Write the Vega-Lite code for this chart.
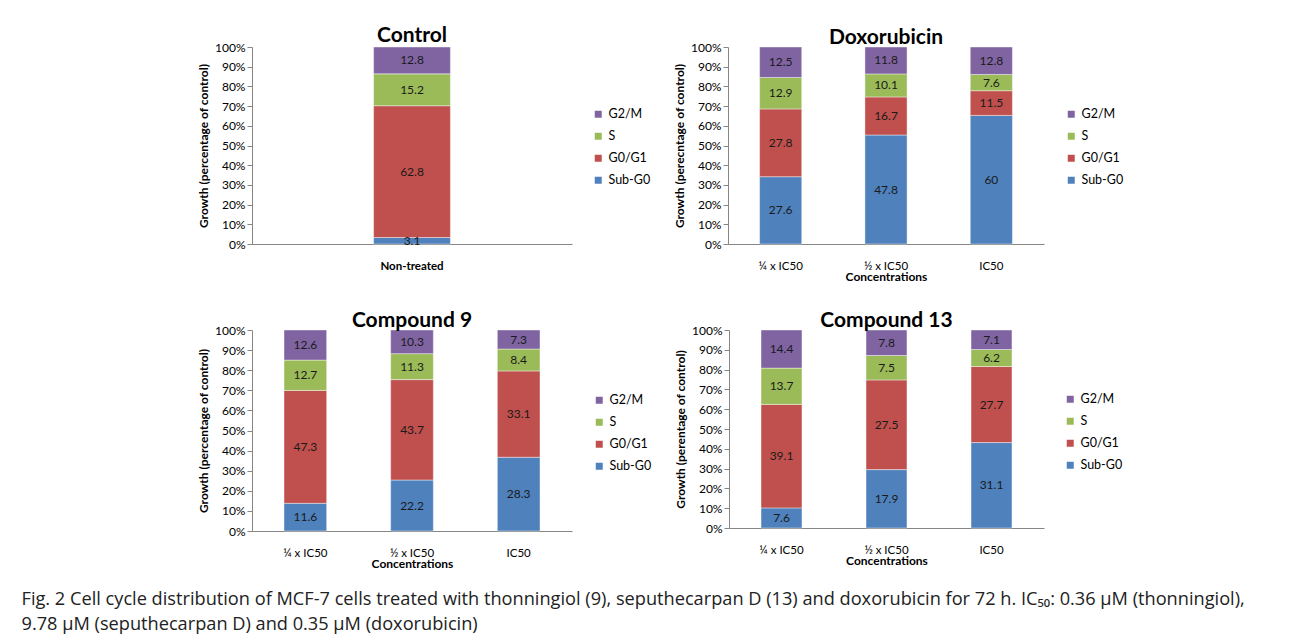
{
  "$schema": "https://vega.github.io/schema/vega-lite/v6.json",
  "padding": {"left": 21, "top": 25, "right": 5, "bottom": 5},
  "background": "white",
  "spacing": 27,
  "config": {
    "font": "Lato",
    "view": {"stroke": null},
    "title": {"font": "Lato", "fontSize": 21, "fontWeight": "bold", "color": "#000"},
    "axis": {"labelFont": "Lato", "titleFont": "Lato", "labelColor": "#000", "titleColor": "#000", "domainColor": "#868686", "tickColor": "#868686", "labelFontSize": 11.5, "titleFontSize": 12, "titleFontWeight": "bold", "labelOverlap": false, "labelSeparation": -30},
    "axisY": {"labelFontSize": 12},
    "legend": {"labelFont": "Lato", "labelFontSize": 12.5, "labelColor": "#000", "symbolType": "square", "symbolSize": 49, "symbolStrokeWidth": 0, "rowPadding": 9, "labelOffset": 4}
  },
  "datasets": {
    "cells": [
      {"panel": "Control", "conc": "Non-treated", "phase": "Sub-G0", "value": 3.1},
      {"panel": "Control", "conc": "Non-treated", "phase": "G0/G1", "value": 62.8},
      {"panel": "Control", "conc": "Non-treated", "phase": "S", "value": 15.2},
      {"panel": "Control", "conc": "Non-treated", "phase": "G2/M", "value": 12.8},
      {"panel": "Doxorubicin", "conc": "¼ x IC50", "phase": "Sub-G0", "value": 27.6},
      {"panel": "Doxorubicin", "conc": "¼ x IC50", "phase": "G0/G1", "value": 27.8},
      {"panel": "Doxorubicin", "conc": "¼ x IC50", "phase": "S", "value": 12.9},
      {"panel": "Doxorubicin", "conc": "¼ x IC50", "phase": "G2/M", "value": 12.5},
      {"panel": "Doxorubicin", "conc": "½ x IC50", "phase": "Sub-G0", "value": 47.8},
      {"panel": "Doxorubicin", "conc": "½ x IC50", "phase": "G0/G1", "value": 16.7},
      {"panel": "Doxorubicin", "conc": "½ x IC50", "phase": "S", "value": 10.1},
      {"panel": "Doxorubicin", "conc": "½ x IC50", "phase": "G2/M", "value": 11.8},
      {"panel": "Doxorubicin", "conc": "IC50", "phase": "Sub-G0", "value": 60},
      {"panel": "Doxorubicin", "conc": "IC50", "phase": "G0/G1", "value": 11.5},
      {"panel": "Doxorubicin", "conc": "IC50", "phase": "S", "value": 7.6},
      {"panel": "Doxorubicin", "conc": "IC50", "phase": "G2/M", "value": 12.8},
      {"panel": "Compound 9", "conc": "¼ x IC50", "phase": "Sub-G0", "value": 11.6},
      {"panel": "Compound 9", "conc": "¼ x IC50", "phase": "G0/G1", "value": 47.3},
      {"panel": "Compound 9", "conc": "¼ x IC50", "phase": "S", "value": 12.7},
      {"panel": "Compound 9", "conc": "¼ x IC50", "phase": "G2/M", "value": 12.6},
      {"panel": "Compound 9", "conc": "½ x IC50", "phase": "Sub-G0", "value": 22.2},
      {"panel": "Compound 9", "conc": "½ x IC50", "phase": "G0/G1", "value": 43.7},
      {"panel": "Compound 9", "conc": "½ x IC50", "phase": "S", "value": 11.3},
      {"panel": "Compound 9", "conc": "½ x IC50", "phase": "G2/M", "value": 10.3},
      {"panel": "Compound 9", "conc": "IC50", "phase": "Sub-G0", "value": 28.3},
      {"panel": "Compound 9", "conc": "IC50", "phase": "G0/G1", "value": 33.1},
      {"panel": "Compound 9", "conc": "IC50", "phase": "S", "value": 8.4},
      {"panel": "Compound 9", "conc": "IC50", "phase": "G2/M", "value": 7.3},
      {"panel": "Compound 13", "conc": "¼ x IC50", "phase": "Sub-G0", "value": 7.6},
      {"panel": "Compound 13", "conc": "¼ x IC50", "phase": "G0/G1", "value": 39.1},
      {"panel": "Compound 13", "conc": "¼ x IC50", "phase": "S", "value": 13.7},
      {"panel": "Compound 13", "conc": "¼ x IC50", "phase": "G2/M", "value": 14.4},
      {"panel": "Compound 13", "conc": "½ x IC50", "phase": "Sub-G0", "value": 17.9},
      {"panel": "Compound 13", "conc": "½ x IC50", "phase": "G0/G1", "value": 27.5},
      {"panel": "Compound 13", "conc": "½ x IC50", "phase": "S", "value": 7.5},
      {"panel": "Compound 13", "conc": "½ x IC50", "phase": "G2/M", "value": 7.8},
      {"panel": "Compound 13", "conc": "IC50", "phase": "Sub-G0", "value": 31.1},
      {"panel": "Compound 13", "conc": "IC50", "phase": "G0/G1", "value": 27.7},
      {"panel": "Compound 13", "conc": "IC50", "phase": "S", "value": 6.2},
      {"panel": "Compound 13", "conc": "IC50", "phase": "G2/M", "value": 7.1}
    ]
  },
  "data": {"name": "cells"},
  "transform": [
    {"calculate": "indexof(['Sub-G0', 'G0/G1', 'S', 'G2/M'], datum.phase)", "as": "ord"},
    {"stack": "value", "groupby": ["panel", "conc"], "sort": [{"field": "ord", "order": "ascending"}], "offset": "normalize", "as": ["y0", "y1"]},
    {"calculate": "(datum.y0 + datum.y1) / 2", "as": "ymid"}
  ],
  "title": {
    "text": ["Fig. 2 Cell cycle distribution of MCF-7 cells treated with thonningiol (9), seputhecarpan D (13) and doxorubicin for 72 h. IC₅₀: 0.36 µM (thonningiol),", "9.78 µM (seputhecarpan D) and 0.35 µM (doxorubicin)"],
    "orient": "bottom",
    "anchor": "start",
    "font": "Open Sans",
    "fontSize": 18.2,
    "fontWeight": "normal",
    "lineHeight": 25,
    "color": "#222",
    "dx": -176,
    "offset": 21
  },
  "vconcat": [
    {
      "spacing": 22,
      "resolve": {"scale": {"color": "independent", "x": "independent", "y": "independent"}, "legend": {"color": "independent"}},
      "hconcat": [
        {
          "title": {"text": "Control", "offset": -5},
          "width": 320,
          "height": 197,
          "transform": [{"filter": "datum.panel == 'Control'"}],
          "encoding": {
            "x": {"field": "conc", "type": "nominal", "sort": null, "scale": {"paddingInner": 0, "paddingOuter": 0},
              "axis": {"title": null, "labelAngle": 0, "ticks": false, "labelPadding": 16, "labelFontWeight": "bold"}}
          },
          "resolve": {"axis": {"y": "independent"}},
          "layer": [
            {
              "mark": {"type": "bar", "width": {"band": 0.24}, "stroke": "#ffffff", "strokeWidth": 0.6, "strokeOpacity": 0.7},
              "encoding": {
                "y": {"field": "y0", "type": "quantitative", "scale": {"domain": [0, 1]},
                  "axis": {"title": "Growth (percentage of control)", "format": "%", "values": [0, 0.1, 0.2, 0.3, 0.4, 0.5, 0.6, 0.7, 0.8, 0.9, 1], "labelOverlap": false, "grid": false, "tickSize": 5, "labelPadding": 2, "titlePadding": 4}},
                "y2": {"field": "y1"},
                "color": {"field": "phase", "type": "nominal", "scale": {"domain": ["G2/M", "S", "G0/G1", "Sub-G0"], "range": ["#8064A2", "#9BBB59", "#C0504D", "#4F81BD"]},
                  "legend": {"title": null, "orient": "none", "legendX": 340, "legendY": 61}}
              }
            },
            {
              "mark": {"type": "text", "fontSize": 12, "color": "#1a1a1a", "baseline": "middle"},
              "encoding": {
                "y": {"field": "ymid", "type": "quantitative", "axis": null},
                "text": {"field": "value", "type": "quantitative"}
              }
            }
          ]
        },
        {
          "title": {"text": "Doxorubicin", "offset": -7},
          "width": 316,
          "height": 197,
          "transform": [{"filter": "datum.panel == 'Doxorubicin'"}],
          "encoding": {
            "x": {"field": "conc", "type": "nominal", "sort": null, "scale": {"paddingInner": 0, "paddingOuter": 0},
              "axis": {"title": "Concentrations", "titlePadding": 0, "labelAngle": 0, "ticks": false, "labelPadding": 16}}
          },
          "resolve": {"axis": {"y": "independent"}},
          "layer": [
            {
              "mark": {"type": "bar", "width": {"band": 0.4}, "stroke": "#ffffff", "strokeWidth": 0.6, "strokeOpacity": 0.7},
              "encoding": {
                "y": {"field": "y0", "type": "quantitative", "scale": {"domain": [0, 1]},
                  "axis": {"title": "Growth (perecntage of control)", "format": "%", "values": [0, 0.1, 0.2, 0.3, 0.4, 0.5, 0.6, 0.7, 0.8, 0.9, 1], "labelOverlap": false, "grid": false, "tickSize": 5, "labelPadding": 2, "titlePadding": 4}},
                "y2": {"field": "y1"},
                "color": {"field": "phase", "type": "nominal", "scale": {"domain": ["G2/M", "S", "G0/G1", "Sub-G0"], "range": ["#8064A2", "#9BBB59", "#C0504D", "#4F81BD"]},
                  "legend": {"title": null, "orient": "none", "legendX": 337, "legendY": 61}}
              }
            },
            {
              "mark": {"type": "text", "fontSize": 12, "color": "#1a1a1a", "baseline": "middle"},
              "encoding": {
                "y": {"field": "ymid", "type": "quantitative", "axis": null},
                "text": {"field": "value", "type": "quantitative"}
              }
            }
          ]
        }
      ]
    },
    {
      "spacing": 22,
      "resolve": {"scale": {"color": "independent", "x": "independent", "y": "independent"}, "legend": {"color": "independent"}},
      "hconcat": [
        {
          "title": {"text": "Compound 9", "offset": -7},
          "width": 320,
          "height": 201,
          "transform": [{"filter": "datum.panel == 'Compound 9'"}],
          "encoding": {
            "x": {"field": "conc", "type": "nominal", "sort": null, "scale": {"paddingInner": 0, "paddingOuter": 0},
              "axis": {"title": "Concentrations", "titlePadding": 0, "labelAngle": 0, "ticks": false, "labelPadding": 16}}
          },
          "resolve": {"axis": {"y": "independent"}},
          "layer": [
            {
              "mark": {"type": "bar", "width": {"band": 0.4}, "stroke": "#ffffff", "strokeWidth": 0.6, "strokeOpacity": 0.7},
              "encoding": {
                "y": {"field": "y0", "type": "quantitative", "scale": {"domain": [0, 1]},
                  "axis": {"title": "Growth (percentage of control)", "format": "%", "values": [0, 0.1, 0.2, 0.3, 0.4, 0.5, 0.6, 0.7, 0.8, 0.9, 1], "labelOverlap": false, "grid": false, "tickSize": 5, "labelPadding": 2, "titlePadding": 4}},
                "y2": {"field": "y1"},
                "color": {"field": "phase", "type": "nominal", "scale": {"domain": ["G2/M", "S", "G0/G1", "Sub-G0"], "range": ["#8064A2", "#9BBB59", "#C0504D", "#4F81BD"]},
                  "legend": {"title": null, "orient": "none", "legendX": 341, "legendY": 64}}
              }
            },
            {
              "mark": {"type": "text", "fontSize": 12, "color": "#1a1a1a", "baseline": "middle"},
              "encoding": {
                "y": {"field": "ymid", "type": "quantitative", "axis": null},
                "text": {"field": "value", "type": "quantitative"}
              }
            }
          ]
        },
        {
          "title": {"text": "Compound 13", "offset": -7},
          "width": 315,
          "height": 198,
          "transform": [{"filter": "datum.panel == 'Compound 13'"}],
          "encoding": {
            "x": {"field": "conc", "type": "nominal", "sort": null, "scale": {"paddingInner": 0, "paddingOuter": 0},
              "axis": {"title": "Concentrations", "titlePadding": 0, "labelAngle": 0, "ticks": false, "labelPadding": 16}}
          },
          "resolve": {"axis": {"y": "independent"}},
          "layer": [
            {
              "mark": {"type": "bar", "width": {"band": 0.39}, "stroke": "#ffffff", "strokeWidth": 0.6, "strokeOpacity": 0.7},
              "encoding": {
                "y": {"field": "y0", "type": "quantitative", "scale": {"domain": [0, 1]},
                  "axis": {"title": "Growth (perentage of control)", "format": "%", "values": [0, 0.1, 0.2, 0.3, 0.4, 0.5, 0.6, 0.7, 0.8, 0.9, 1], "labelOverlap": false, "grid": false, "tickSize": 5, "labelPadding": 2, "titlePadding": 4}},
                "y2": {"field": "y1"},
                "color": {"field": "phase", "type": "nominal", "scale": {"domain": ["G2/M", "S", "G0/G1", "Sub-G0"], "range": ["#8064A2", "#9BBB59", "#C0504D", "#4F81BD"]},
                  "legend": {"title": null, "orient": "none", "legendX": 335, "legendY": 63}}
              }
            },
            {
              "mark": {"type": "text", "fontSize": 12, "color": "#1a1a1a", "baseline": "middle"},
              "encoding": {
                "y": {"field": "ymid", "type": "quantitative", "axis": null},
                "text": {"field": "value", "type": "quantitative"}
              }
            }
          ]
        }
      ]
    }
  ]
}
